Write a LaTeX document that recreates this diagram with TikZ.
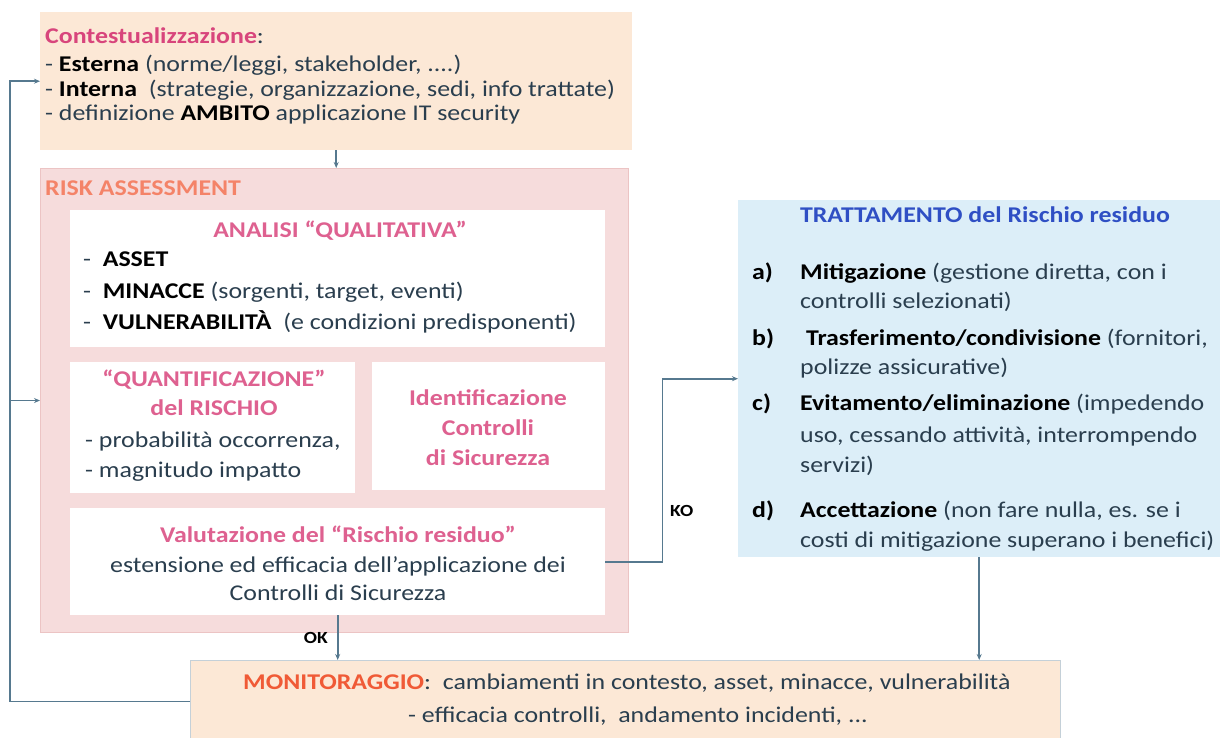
\documentclass[tikz,border=0pt]{standalone}
\usepackage{fontspec}
\setmainfont{Carlito}[FakeStretch=1.15]
\usetikzlibrary{arrows.meta}
\definecolor{peach}{HTML}{FCE8D6}
\definecolor{riskbg}{HTML}{F6DCDC}
\definecolor{riskline}{HTML}{ECC4C4}
\definecolor{skyfill}{HTML}{DCEEF8}
\definecolor{bodytxt}{HTML}{2A3E4E}
\definecolor{pinktitle}{HTML}{D8457C}
\definecolor{orangetitle}{HTML}{F05A36}
\definecolor{bluetitle}{HTML}{2F4FC4}
\definecolor{wire}{HTML}{56798F}
\begin{document}
\begin{tikzpicture}[x=1pt,y=-1pt,
  box/.style={rectangle, inner sep=0pt, anchor=north west},
  txt/.style={inner sep=0pt, text=bodytxt, font=\fontsize{22.5}{27}\selectfont},
  ln/.style={txt, anchor=base west},
  cl/.style={txt, anchor=base},
  pink/.style={cl, text=pinktitle!85, font=\fontsize{22.5}{27}\selectfont\bfseries},
  conn/.style={draw=wire, line width=1.6pt, -{Stealth[length=6pt,width=5pt]}},
  lbl/.style={inner sep=0pt, font=\fontsize{17}{20}\selectfont\bfseries, text=black}]
\useasboundingbox (0,0) rectangle (1220,737);
\newcommand{\kw}[1]{\textcolor{black}{\bfseries #1}}

% --- boxes ---
\node[box, fill=peach, minimum width=592pt, minimum height=138pt] (ctx) at (40,12) {};
\node[box, fill=riskbg, draw=riskline, line width=1pt, minimum width=588pt, minimum height=464pt] (risk) at (40,168) {};
\node[box, fill=white, minimum width=535pt, minimum height=137pt] (qual) at (70,210) {};
\node[box, fill=white, minimum width=285pt, minimum height=131pt] (quant) at (70,362) {};
\node[box, fill=white, minimum width=233pt, minimum height=128pt] (ident) at (372,362) {};
\node[box, fill=white, minimum width=535pt, minimum height=107pt] (val) at (70,508) {};
\node[box, fill=skyfill, minimum width=482pt, minimum height=357pt] (trat) at (738,200) {};
\node[box, fill=peach, draw=wire!35, line width=0.8pt, minimum width=870pt, minimum height=82pt] (mon) at (190,660) {};

% --- context ---
\node[ln] (c0) at (45,43) {\textcolor{pinktitle}{\bfseries Contestualizzazione}:};
\node[ln] (c1) at (45,71) {- \kw{Esterna} (norme/leggi, stakeholder, ....)};
\node[ln] (c2) at (45,96) {- \kw{Interna}\ \ (strategie, organizzazione, sedi, info trattate)};
\node[ln] (c3) at (45,120) {- definizione \kw{AMBITO} applicazione IT security};

% --- risk assessment ---
\node[ln, text=orangetitle!75, font=\fontsize{22.5}{27}\selectfont\bfseries] (rt) at (45,195) {RISK ASSESSMENT};

\node[pink] (q0) at (340,237) {ANALISI ``QUALITATIVA''};
\node[ln] (q1) at (83,266) {- \ \kw{ASSET}};
\node[ln] (q2) at (83,298) {- \ \kw{MINACCE}\ (sorgenti, target, eventi)};
\node[ln] (q3) at (83,329) {- \ \kw{VULNERABILITÀ}\ \ (e condizioni predisponenti)};

\node[pink] (n0) at (214,386) {``QUANTIFICAZIONE''};
\node[pink] (n1) at (214,415) {del RISCHIO};
\node[ln] (n2) at (85,447) {- probabilità occorrenza,};
\node[ln] (n3) at (85,477) {- magnitudo impatto};

\node[pink] (i0) at (488,405) {Identificazione};
\node[pink] (i1) at (488,435) {Controlli};
\node[pink] (i2) at (488,465) {di Sicurezza};

\node[pink] (v0) at (338,542) {Valutazione del ``Rischio residuo''};
\node[cl] (v1) at (338,572) {estensione ed efficacia dell'applicazione dei};
\node[cl] (v2) at (338,600) {Controlli di Sicurezza};

% --- treatment ---
\node[cl, text=bluetitle, font=\fontsize{22.5}{27}\selectfont\bfseries] (t0) at (985,222) {TRATTAMENTO del Rischio residuo};
\node[ln] (la) at (752,279) {\kw{a)}};
\node[ln] (a1) at (800,279) {\kw{Mitigazione} (gestione diretta, con i};
\node[ln] (a2) at (800,308) {controlli selezionati)};
\node[ln] (lb) at (752,345) {\kw{b)}};
\node[ln] (b1) at (800,345) {\ \kw{Trasferimento/condivisione} (fornitori,};
\node[ln] (b2) at (800,374) {polizze assicurative)};
\node[ln] (lc) at (752,410) {\kw{c)}};
\node[ln] (c1t) at (800,410) {\kw{Evitamento/eliminazione}\ (impedendo};
\node[ln] (c2t) at (800,442) {uso, cessando attività, interrompendo};
\node[ln] (c3t) at (800,472) {servizi)};
\node[ln] (ld) at (752,517) {\kw{d)}};
\node[ln] (d1) at (800,517) {\kw{Accettazione}\ (non fare nulla, es. se i};
\node[ln] (d2) at (800,547) {costi di mitigazione superano i benefici)};

% --- monitoring ---
\node[ln] (m1) at (243,689) {\textcolor{orangetitle}{\bfseries MONITORAGGIO}:\ \ cambiamenti in contesto, asset, minacce, vulnerabilità};
\node[ln] (m2) at (408,722) {- efficacia controlli,\ \ andamento incidenti, ...};

% --- connectors ---
\draw[conn] (ctx.south) -- (ctx.south |- risk.north);
\draw[conn] (val.south) -- (val.south |- mon.north);
\node[lbl, anchor=base east] (oklbl) at (328,643) {OK};
\draw[conn] (val.east) -- ++(57,0) |- (trat.west);
\node[lbl, anchor=base west] (kolbl) at (670,516) {KO};
\draw[conn] (trat.south) -- (trat.south |- mon.north);
\coordinate (loop) at (10,0);
\draw[conn] (mon.west) -- (loop |- mon.west) |- (ctx.west);
\draw[conn] (loop |- risk.west) -- (risk.west);
\end{tikzpicture}
\end{document}
